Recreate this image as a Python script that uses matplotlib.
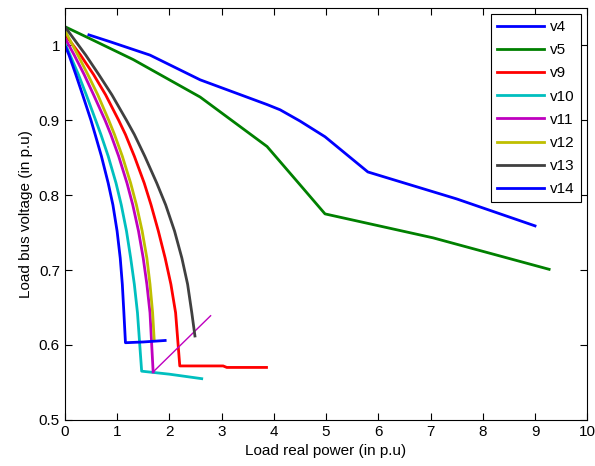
import numpy as np
import matplotlib
matplotlib.use("Agg")
import matplotlib.pyplot as plt

plt.rcParams["font.family"] = ["Liberation Sans", "DejaVu Sans"]

# load real power (p.u) / load bus voltage (p.u)
v4_x = [0.46, 0.86, 1.63, 2.59, 3.87, 4.12, 4.50, 4.98, 5.80, 7.50, 9.00]
v4_y = [1.014, 1.005, 0.987, 0.954, 0.921, 0.914, 0.899, 0.878, 0.831, 0.795, 0.759]

v5_x = [0.0, 0.48, 1.31, 2.59, 3.87, 4.50, 4.98, 7.05, 9.27]
v5_y = [1.025, 1.009, 0.981, 0.931, 0.865, 0.814, 0.775, 0.743, 0.701]

v9_x = [0.0, 0.30, 0.55, 0.78, 1.03, 1.16, 1.33, 1.52, 1.65, 1.79, 1.92, 2.03, 2.12, 2.20,
        3.03, 3.10, 3.86]
v9_y = [1.015, 0.987, 0.961, 0.934, 0.900, 0.881, 0.852, 0.816, 0.787, 0.752, 0.716, 0.681,
        0.643, 0.572, 0.572, 0.570, 0.570]

v10_x = [0.0, 0.10, 0.26, 0.41, 0.59, 0.69, 0.83, 0.98, 1.08, 1.18, 1.26, 1.33, 1.39, 1.47,
         2.00, 2.62]
v10_y = [1.003, 0.987, 0.961, 0.934, 0.900, 0.881, 0.852, 0.816, 0.787, 0.752, 0.716, 0.681,
         0.643, 0.565, 0.561, 0.555]

v11_x = [0.0, 0.18, 0.37, 0.55, 0.77, 0.88, 1.03, 1.19, 1.30, 1.41, 1.50, 1.57, 1.63, 1.69]
v11_y = [1.010, 0.987, 0.961, 0.934, 0.900, 0.881, 0.852, 0.816, 0.787, 0.752, 0.716, 0.681,
         0.643, 0.564]
v11_tail_x = [1.69, 2.79]
v11_tail_y = [0.564, 0.639]

v12_x = [0.0, 0.25, 0.44, 0.63, 0.84, 0.95, 1.10, 1.26, 1.37, 1.48, 1.57, 1.63, 1.68, 1.71]
v12_y = [1.020, 0.987, 0.961, 0.934, 0.900, 0.881, 0.852, 0.816, 0.787, 0.752, 0.716, 0.681,
         0.643, 0.607]

v13_x = [0.0, 0.40, 0.65, 0.90, 1.18, 1.33, 1.53, 1.76, 1.93, 2.10, 2.24, 2.35, 2.43, 2.49]
v13_y = [1.025, 0.987, 0.961, 0.934, 0.900, 0.881, 0.852, 0.816, 0.787, 0.752, 0.716, 0.681,
         0.643, 0.612]

v14_x = [0.02, 0.08, 0.21, 0.34, 0.50, 0.58, 0.70, 0.83, 0.92, 1.00, 1.06, 1.10, 1.13, 1.16,
         1.50, 1.92]
v14_y = [0.997, 0.987, 0.961, 0.934, 0.900, 0.881, 0.852, 0.816, 0.787, 0.752, 0.716, 0.681,
         0.643, 0.603, 0.604, 0.606]

fig = plt.figure(figsize=(5.95, 4.66), dpi=100)
ax = fig.add_axes([0.109, 0.099, 0.878, 0.884])

lw = 2.0
ax.plot(v4_x, v4_y, color=(0, 0, 1), lw=lw, label="v4")
ax.plot(v5_x, v5_y, color=(0, 0.5, 0), lw=lw, label="v5")
ax.plot(v9_x, v9_y, color=(1, 0, 0), lw=lw, label="v9")
ax.plot(v10_x, v10_y, color=(0, 0.75, 0.75), lw=lw, label="v10")
ax.plot(v11_x, v11_y, color=(0.75, 0, 0.75), lw=lw, label="v11")
ax.plot(v11_tail_x, v11_tail_y, color=(0.75, 0, 0.75), lw=1.0)
ax.plot(v12_x, v12_y, color=(0.75, 0.75, 0), lw=lw, label="v12")
ax.plot(v13_x, v13_y, color=(0.25, 0.25, 0.25), lw=lw, label="v13")
ax.plot(v14_x, v14_y, color=(0, 0, 1), lw=lw, label="v14")

ax.set_xlim(0, 10)
ax.set_ylim(0.5, 1.05)
ax.set_xticks(np.arange(0, 11, 1))
ax.set_yticks([0.5, 0.6, 0.7, 0.8, 0.9, 1.0])
ax.set_yticklabels(["0.5", "0.6", "0.7", "0.8", "0.9", "1"])
ax.tick_params(direction="in", top=True, right=True, labelsize=11, length=5)
ax.set_xlabel("Load real power (in p.u)", fontsize=11)
ax.set_ylabel("Load bus voltage (in p.u)", fontsize=11)

leg = ax.legend(loc="upper right", fontsize=11, handlelength=3.1, fancybox=False,
                edgecolor="black", framealpha=1, labelspacing=0.6,
                borderaxespad=0.4, handletextpad=0.4)
leg.get_frame().set_linewidth(0.8)

fig.savefig("out.png", dpi=100)
